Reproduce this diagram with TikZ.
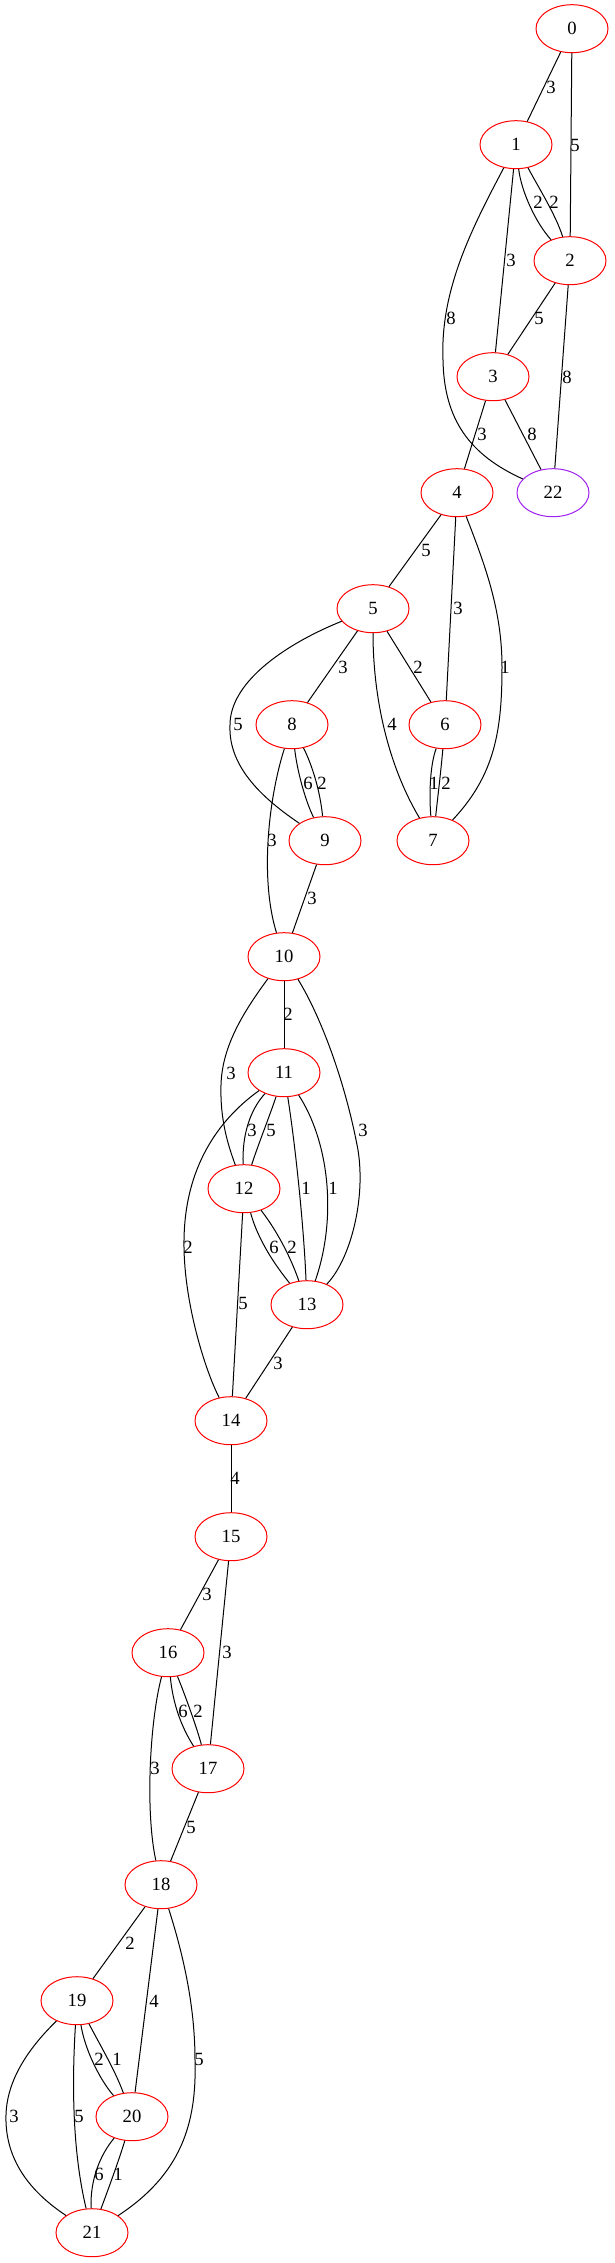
\documentclass[tikz,border=0pt]{standalone}
\usepackage{fontspec}
\setmainfont{Liberation Serif}
\usetikzlibrary{shapes.geometric}
\begin{document}
\begin{tikzpicture}[x=0.75pt,y=-0.75pt,
  nd/.style={ellipse,draw=red,line width=0.75pt,minimum width=54pt,minimum height=36pt,inner sep=0pt,font=\fontsize{14pt}{16pt}\selectfont},
  ndp/.style={nd,draw={rgb,255:red,160;green,32;blue,240}},
  ed/.style={draw=black,line width=0.75pt},
  lbl/.style={inner sep=0pt,font=\fontsize{14pt}{16pt}\selectfont}]
\useasboundingbox (0,0) rectangle (614,2263);
% nodes
\node[nd] (n0) at (572,28.7) {0};
\node[nd] (n1) at (516,144.7) {1};
\node[nd] (n2) at (570,260.7) {2};
\node[nd] (n3) at (493,376.7) {3};
\node[nd] (n4) at (457,492.7) {4};
\node[ndp] (n22) at (553,492.7) {22};
\node[nd] (n5) at (373,608.7) {5};
\node[nd] (n8) at (292,724.7) {8};
\node[nd] (n6) at (445,724.7) {6};
\node[nd] (n9) at (325,840.7) {9};
\node[nd] (n7) at (433,840.7) {7};
\node[nd] (n10) at (284,956.7) {10};
\node[nd] (n11) at (284,1072.7) {11};
\node[nd] (n12) at (244,1188.7) {12};
\node[nd] (n13) at (307,1304.7) {13};
\node[nd] (n14) at (231,1420.7) {14};
\node[nd] (n15) at (231,1536.7) {15};
\node[nd] (n16) at (168,1652.7) {16};
\node[nd] (n17) at (208,1768.7) {17};
\node[nd] (n18) at (161,1884.7) {18};
\node[nd] (n19) at (77,2000.7) {19};
\node[nd] (n20) at (132,2116.7) {20};
\node[nd] (n21) at (92,2232.7) {21};
% edges
\draw[ed] (n0) -- (n1) node[lbl,at={(551,87)}] {3};
\draw[ed] (n0) -- (n2) node[lbl,at={(575,145)}] {5};
\draw[ed] (n1) .. controls (521,190) and (535,222) .. (n2) node[lbl,at={(538,202)}] {2};
\draw[ed] (n1) .. controls (537,185) and (556,215) .. (n2) node[lbl,at={(554,202)}] {2};
\draw[ed] (n1) -- (n3) node[lbl,at={(511,260)}] {3};
\draw[ed] (n1) .. controls (472,228) and (440,290) .. (443,360) .. controls (444,420) and (470,455) .. (n22) node[lbl,at={(451,318)}] {8};
\draw[ed] (n2) -- (n3) node[lbl,at={(539,318)}] {5};
\draw[ed] (n2) -- (n22) node[lbl,at={(567,377)}] {8};
\draw[ed] (n3) -- (n4) node[lbl,at={(482,434)}] {3};
\draw[ed] (n3) -- (n22) node[lbl,at={(532,434)}] {8};
\draw[ed] (n4) -- (n5) node[lbl,at={(426,550)}] {5};
\draw[ed] (n4) -- (n6) node[lbl,at={(458,608)}] {3};
\draw[ed] (n4) .. controls (485,565) and (502,610) .. (502,667) .. controls (502,730) and (495,775) .. (n7) node[lbl,at={(505,667)}] {1};
\draw[ed] (n5) -- (n8) node[lbl,at={(343,667)}] {3};
\draw[ed] (n5) -- (n6) node[lbl,at={(418,667)}] {2};
\draw[ed] (n5) .. controls (373,690) and (385,760) .. (n7) node[lbl,at={(392,724)}] {4};
\draw[ed] (n5) .. controls (290,642) and (230,680) .. (230,725) .. controls (228,768) and (265,800) .. (n9) node[lbl,at={(238,724)}] {5};
\draw[ed] (n8) .. controls (297,770) and (305,800) .. (n9) node[lbl,at={(308,783)}] {6};
\draw[ed] (n8) .. controls (312,765) and (320,790) .. (n9) node[lbl,at={(322,783)}] {2};
\draw[ed] (n6) .. controls (430,765) and (429,795) .. (n7) node[lbl,at={(434,783)}] {1};
\draw[ed] (n6) .. controls (441,770) and (438,795) .. (n7) node[lbl,at={(446,783)}] {2};
\draw[ed] (n8) .. controls (268,800) and (260,880) .. (n10) node[lbl,at={(272,840)}] {3};
\draw[ed] (n9) -- (n10) node[lbl,at={(312,898)}] {3};
\draw[ed] (n10) -- (n11) node[lbl,at={(288,1014)}] {2};
\draw[ed] (n10) .. controls (245,1010) and (222,1045) .. (221,1085) .. controls (220,1120) and (228,1145) .. (n12) node[lbl,at={(231,1073)}] {3};
\draw[ed] (n10) .. controls (320,1015) and (345,1080) .. (358,1150) .. controls (366,1200) and (350,1260) .. (n13) node[lbl,at={(363,1130)}] {3};
\draw[ed] (n11) .. controls (250,1110) and (242,1135) .. (n12) node[lbl,at={(252,1130)}] {3};
\draw[ed] (n11) .. controls (270,1115) and (258,1145) .. (n12) node[lbl,at={(271,1130)}] {5};
\draw[ed] (n11) .. controls (296,1150) and (304,1230) .. (n13) node[lbl,at={(306,1188)}] {1};
\draw[ed] (n11) .. controls (328,1140) and (338,1215) .. (n13) node[lbl,at={(333,1188)}] {1};
\draw[ed] (n11) .. controls (225,1115) and (185,1160) .. (184,1240) .. controls (183,1300) and (205,1370) .. (n14) node[lbl,at={(188,1247)}] {2};
\draw[ed] (n12) .. controls (258,1240) and (275,1265) .. (n13) node[lbl,at={(274,1247)}] {6};
\draw[ed] (n12) .. controls (275,1228) and (290,1255) .. (n13) node[lbl,at={(292,1247)}] {2};
\draw[ed] (n12) -- (n14) node[lbl,at={(243,1303)}] {5};
\draw[ed] (n13) -- (n14) node[lbl,at={(278,1363)}] {3};
\draw[ed] (n14) -- (n15) node[lbl,at={(235,1478)}] {4};
\draw[ed] (n15) -- (n16) node[lbl,at={(207,1594)}] {3};
\draw[ed] (n15) -- (n17) node[lbl,at={(227,1652)}] {3};
\draw[ed] (n16) .. controls (173,1705) and (182,1728) .. (n17) node[lbl,at={(183,1711)}] {6};
\draw[ed] (n16) .. controls (185,1695) and (196,1725) .. (n17) node[lbl,at={(198,1711)}] {2};
\draw[ed] (n16) .. controls (150,1720) and (145,1810) .. (n18) node[lbl,at={(155,1768)}] {3};
\draw[ed] (n17) -- (n18) node[lbl,at={(191,1827)}] {5};
\draw[ed] (n18) -- (n19) node[lbl,at={(130,1943)}] {2};
\draw[ed] (n18) -- (n20) node[lbl,at={(154,2001)}] {4};
\draw[ed] (n18) .. controls (185,1960) and (195,2010) .. (195,2060) .. controls (197,2125) and (180,2175) .. (n21) node[lbl,at={(199,2059)}] {5};
\draw[ed] (n19) .. controls (85,2050) and (100,2080) .. (n20) node[lbl,at={(99,2059)}] {2};
\draw[ed] (n19) .. controls (100,2045) and (115,2070) .. (n20) node[lbl,at={(117,2059)}] {1};
\draw[ed] (n19) .. controls (35,2042) and (7,2075) .. (6,2115) .. controls (5,2150) and (20,2185) .. (n21) node[lbl,at={(14,2116)}] {3};
\draw[ed] (n19) .. controls (72,2080) and (72,2150) .. (n21) node[lbl,at={(79,2116)}] {5};
\draw[ed] (n20) .. controls (100,2155) and (90,2180) .. (n21) node[lbl,at={(99,2174)}] {6};
\draw[ed] (n20) .. controls (119,2160) and (108,2190) .. (n21) node[lbl,at={(118,2174)}] {1};
\end{tikzpicture}
\end{document}
